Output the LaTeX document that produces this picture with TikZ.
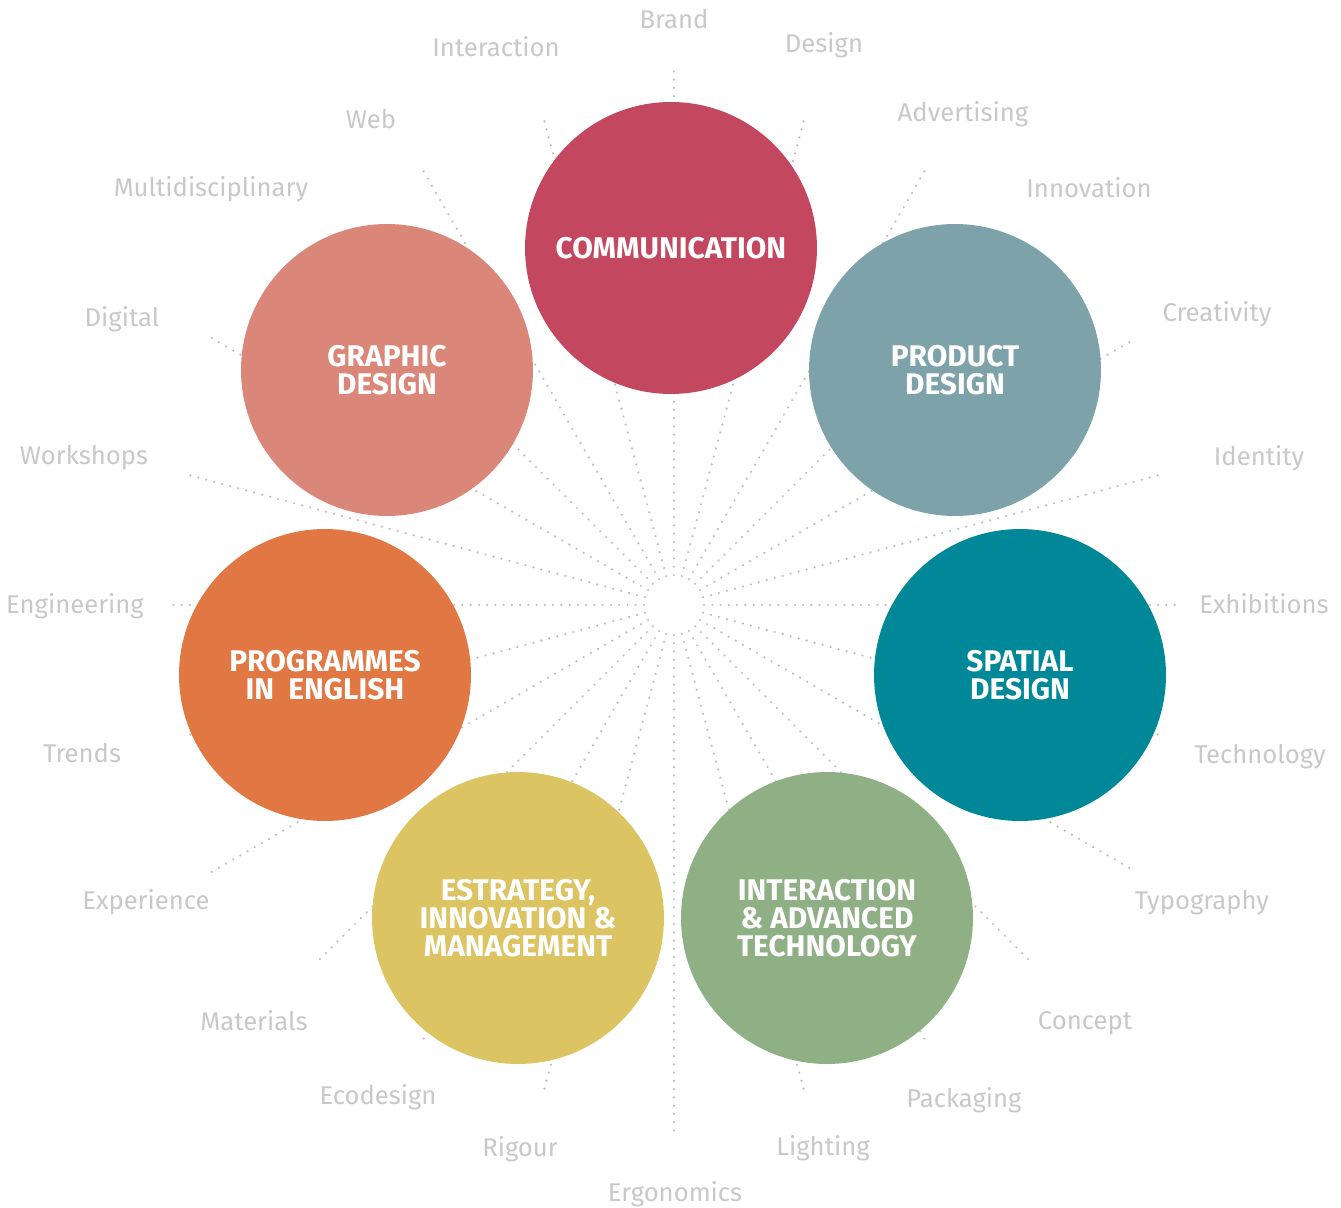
\documentclass[tikz,border=0pt]{standalone}
\usepackage{fontspec}
\setmainfont{Fira Sans}
\usetikzlibrary{positioning}

\definecolor{commred}{HTML}{C44760}
\definecolor{prodgrey}{HTML}{7DA2AA}
\definecolor{spatialteal}{HTML}{008898}
\definecolor{interactgreen}{HTML}{8FB085}
\definecolor{strategyyellow}{HTML}{DBC461}
\definecolor{englishorange}{HTML}{E17844}
\definecolor{graphicpink}{HTML}{DA877A}
\definecolor{keygrey}{HTML}{C8C8CA}
\definecolor{raygrey}{HTML}{BDBDBD}

\begin{document}
\begin{tikzpicture}[x = 0.02cm, y = 0.02cm,
		topic/.style = { circle, fill = #1, text = white, minimum size = 5.84cm, inner sep = 0pt, align = center, font = \fontsize{17}{16}\selectfont\bfseries },
		keyword/.style = { anchor = base, text = keygrey, inner sep = 0pt, font = \fontsize{14.6}{16}\selectfont },
		ray/.style = { raygrey, line width = 1.4pt, line cap = round, dash pattern = on 0pt off 4.7pt }]
		\useasboundingbox (-674,-602) rectangle (667,605);

		% hub in the middle, every ray starts on its border
		\node [circle, minimum size = 1.2cm, inner sep = 0pt, outer sep = 0pt] (hub) at (0,0) {};

		\foreach \ang/\len in {90/535, 75/508, 60/508, 45/508, 30/532, 15/508, 0/508, -15/508, -30/532, -45/508, -60/508, -75/508,
				-90/532, -105/508, -120/508, -135/508, -150/535, -165/508, 180/508, 165/508, 150/535, 135/508, 120/508, 105/508} {
			\coordinate (end\ang) at (\ang:\len);
			\draw [ray] (hub.\ang) -- (end\ang);
		}

		% the seven fields
		\node [topic = commred]        (comm)     at (-3,357)    {COMMUNICATION};
		\node [topic = prodgrey]       (product)  at (281,235)   {PRODUCT\\DESIGN};
		\node [topic = spatialteal]    (spatial)  at (346,-70)   {SPATIAL\\DESIGN};
		\node [topic = interactgreen]  (interact) at (153,-313)  {INTERACTION\\\& ADVANCED\\TECHNOLOGY};
		\node [topic = strategyyellow] (strategy) at (-156,-313) {ESTRATEGY,\\INNOVATION \&\\MANAGEMENT};
		\node [topic = englishorange]  (english)  at (-349,-70)  {PROGRAMMES\\IN~ ENGLISH};
		\node [topic = graphicpink]    (graphic)  at (-287,235)  {GRAPHIC\\DESIGN};

		% keywords at the ends of the rays
		\node [keyword] (brand)       at (0,576)      {Brand};
		\node [keyword] (design)      at (150,552)    {Design};
		\node [keyword] (advertising) at (289,483)    {Advertising};
		\node [keyword] (innovation)  at (415,407)    {Innovation};
		\node [keyword] (creativity)  at (543,283)    {Creativity};
		\node [keyword] (identity)    at (585,140)    {Identity};
		\node [keyword] (exhibitions) at (590,-8)     {Exhibitions};
		\node [keyword] (technology)  at (586,-158)   {Technology};
		\node [keyword] (typography)  at (528,-304)   {Typography};
		\node [keyword] (concept)     at (411,-424)   {Concept};
		\node [keyword] (packaging)   at (290,-502)   {Packaging};
		\node [keyword] (lighting)    at (149,-550)   {Lighting};
		\node [keyword] (ergonomics)  at (1,-596)     {Ergonomics};
		\node [keyword] (rigour)      at (-154,-551)  {Rigour};
		\node [keyword] (ecodesign)   at (-296,-499)  {Ecodesign};
		\node [keyword] (materials)   at (-420,-425)  {Materials};
		\node [keyword] (experience)  at (-528,-304)  {Experience};
		\node [keyword] (trends)      at (-592,-157)  {Trends};
		\node [keyword] (engineering) at (-599,-8)    {Engineering};
		\node [keyword] (workshops)   at (-590,141)   {Workshops};
		\node [keyword] (digital)     at (-552,278)   {Digital};
		\node [keyword] (multi)       at (-463,408)   {Multidisciplinary};
		\node [keyword] (web)         at (-303,476)   {Web};
		\node [keyword] (interaction) at (-178,548)   {Interaction};
	\end{tikzpicture}
\end{document}
